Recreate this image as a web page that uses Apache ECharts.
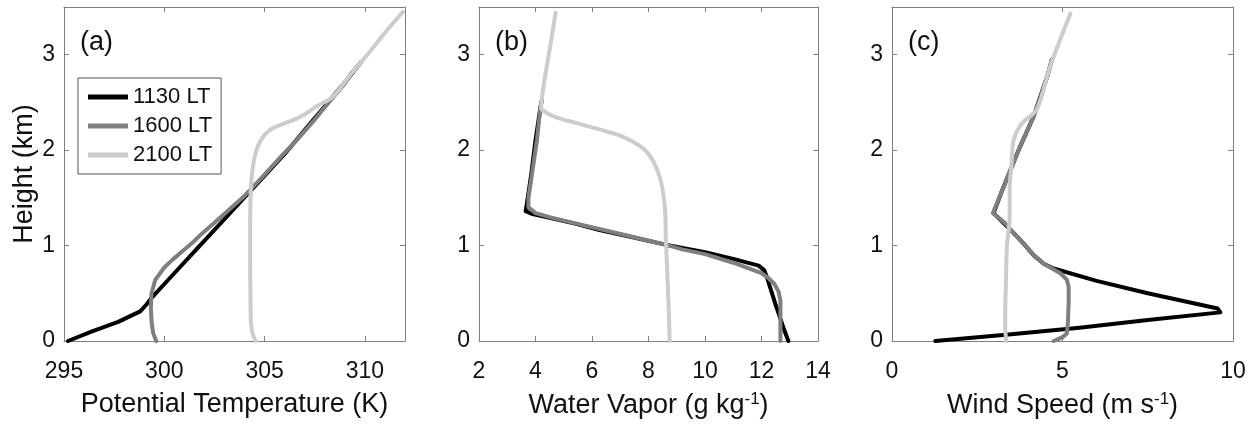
<!DOCTYPE html>
<html>
<head>
<meta charset="utf-8">
<script src="https://cdn.jsdelivr.net/npm/echarts@6/dist/echarts.min.js"></script>
<style>
    html, body { margin: 0; padding: 0; background: #fff; }
    #chart { width: 1257px; height: 425px; }
</style>
</head>
<body>
<div id="chart"></div>
<script>
// series names
var seriesNames = ['1130 LT', '1600 LT', '2100 LT'];
var lineColors = ['#000000', '#7f7f7f', '#cccccc'];

// panel (a) potential temperature (K) vs height (km)
var theta1130 = [[295.2, 0], [296.4, 0.1], [297.7, 0.2], [298.8, 0.31], [299.1, 0.38], [299.4, 0.46], [300.5, 0.71], [301.6, 0.96], [302.7, 1.21], [303.8, 1.46], [304.9, 1.71], [306.0, 1.96], [307.0, 2.21], [308.0, 2.46], [309.0, 2.71], [309.8, 2.92]];
var theta1600 = [[299.6, 0], [299.45, 0.08], [299.37, 0.19], [299.33, 0.35], [299.36, 0.5], [299.55, 0.64], [300.0, 0.77], [300.4, 0.85], [300.9, 0.94], [301.4, 1.03], [301.9, 1.13], [302.5, 1.24], [303.2, 1.37], [303.9, 1.5], [304.8, 1.7], [305.9, 1.95], [306.4, 2.06], [307.0, 2.2], [307.5, 2.32], [308.0, 2.45], [308.6, 2.6], [309.0, 2.7], [309.3, 2.8], [309.8, 2.92]];
var theta2100 = [[304.55, 0], [304.4, 0.08], [304.32, 0.2], [304.3, 0.4], [304.28, 0.8], [304.28, 1.2], [304.3, 1.5], [304.35, 1.7], [304.42, 1.83], [304.55, 1.97], [304.75, 2.08], [305.0, 2.16], [305.4, 2.23], [306.0, 2.28], [306.6, 2.33], [307.1, 2.39], [307.6, 2.46], [308.4, 2.56], [309.2, 2.77], [310.2, 3.02], [311.0, 3.23], [311.9, 3.45]];

// panel (b) water vapor (g/kg) vs height (km)
var vapor1130 = [[12.95, 0], [12.8, 0.12], [12.65, 0.25], [12.5, 0.38], [12.35, 0.52], [12.2, 0.66], [12.1, 0.74], [11.9, 0.79], [11.0, 0.86], [10.0, 0.93], [8.6, 1.01], [7.4, 1.09], [6.3, 1.16], [5.4, 1.23], [4.5, 1.29], [3.9, 1.33], [3.65, 1.36], [3.7, 1.45], [3.85, 1.75], [4.0, 2.1], [4.17, 2.44], [4.22, 2.52]];
var vapor1600 = [[12.67, 0], [12.67, 0.2], [12.67, 0.42], [12.6, 0.52], [12.45, 0.6], [12.2, 0.67], [12.0, 0.71], [11.0, 0.82], [10.0, 0.91], [9.2, 0.96], [8.6, 1.01], [7.6, 1.08], [6.6, 1.15], [5.6, 1.22], [4.6, 1.29], [4.0, 1.34], [3.75, 1.4], [3.75, 1.5], [3.9, 1.8], [4.05, 2.1], [4.17, 2.44], [4.22, 2.52]];
var vapor2100 = [[8.75, 0], [8.72, 0.3], [8.68, 0.6], [8.64, 0.9], [8.61, 1.1], [8.6, 1.3], [8.55, 1.48], [8.45, 1.66], [8.3, 1.8], [8.08, 1.93], [7.8, 2.02], [7.5, 2.08], [7.1, 2.14], [6.7, 2.18], [6.1, 2.23], [5.5, 2.28], [5.0, 2.32], [4.6, 2.36], [4.35, 2.4], [4.2, 2.44], [4.3, 2.7], [4.5, 3.05], [4.71, 3.44]];

// panel (c) wind speed (m/s) vs height (km)
var wind1130 = [[1.27, 0], [3.5, 0.07], [5.5, 0.14], [7.5, 0.22], [9.63, 0.3], [9.55, 0.34], [7.5, 0.5], [6.0, 0.63], [4.74, 0.76], [4.45, 0.81], [4.15, 0.9], [3.86, 1.02], [3.57, 1.13], [2.98, 1.34], [3.2, 1.55], [3.47, 1.79], [3.76, 2.04], [4.15, 2.35], [4.55, 2.77], [4.69, 2.95]];
var wind1600 = [[4.74, 0], [5.0, 0.04], [5.13, 0.08], [5.16, 0.2], [5.18, 0.4], [5.18, 0.57], [5.13, 0.64], [4.94, 0.71], [4.45, 0.81], [4.15, 0.9], [3.86, 1.02], [3.57, 1.13], [3.3, 1.24], [2.96, 1.34], [3.2, 1.55], [3.47, 1.79], [3.76, 2.04], [4.15, 2.35], [4.35, 2.55], [4.55, 2.77], [4.69, 2.95]];
var wind2100 = [[3.35, 0], [3.32, 0.15], [3.32, 0.29], [3.34, 0.6], [3.37, 0.99], [3.45, 1.3], [3.45, 1.6], [3.5, 1.83], [3.57, 2.11], [3.81, 2.28], [4.25, 2.43], [4.64, 2.88], [5.23, 3.43]];

// axis ranges
var heightTicks = [0, 3.5, 1];
var xRanges = [[295, 312, 5], [2, 14, 2], [0, 10, 5]];
var xNames = ['Potential Temperature (K)', 'Water Vapor (g kg{sup|-1})', 'Wind Speed (m s{sup|-1})'];
var panelTags = ['(a)', '(b)', '(c)'];

var FONT = 'Liberation Sans, Arial, sans-serif';
var frameColor = '#7f7f7f';
var grids = [
    {left: 64, top: 7, width: 341, height: 334},
    {left: 479, top: 7, width: 339, height: 334},
    {left: 892, top: 7, width: 341, height: 334}
];

function xAxisFor(i, top) {
    return {
        type: 'value',
        gridIndex: i,
        position: top ? 'top' : 'bottom',
        min: xRanges[i][0],
        max: xRanges[i][1],
        interval: xRanges[i][2],
        name: top ? '' : xNames[i],
        nameLocation: 'middle',
        nameGap: 50,
        nameTextStyle: {
            fontFamily: FONT, fontSize: 27, color: '#111',
            rich: {sup: {fontFamily: FONT, fontSize: 17, color: '#111', verticalAlign: 'top', lineHeight: 30}}
        },
        axisLine: {show: true, onZero: false, lineStyle: {color: frameColor, width: 1}},
        axisTick: {show: true, inside: true, length: 5, lineStyle: {color: frameColor}},
        axisLabel: {show: !top, margin: 19, fontFamily: FONT, fontSize: 23, color: '#111', showMaxLabel: i === 0 ? false : true},
        splitLine: {show: false}
    };
}

function yAxisFor(i, right) {
    return {
        type: 'value',
        gridIndex: i,
        position: right ? 'right' : 'left',
        min: heightTicks[0],
        max: heightTicks[1],
        interval: heightTicks[2],
        name: (i === 0 && !right) ? 'Height (km)' : '',
        nameLocation: 'middle',
        nameGap: 26,
        nameTextStyle: {fontFamily: FONT, fontSize: 27, color: '#111'},
        axisLine: {show: true, onZero: false, lineStyle: {color: frameColor, width: 1}},
        axisTick: {show: true, inside: true, length: 5, lineStyle: {color: frameColor}},
        axisLabel: {show: !right, margin: 9, fontFamily: FONT, fontSize: 23, color: '#111', showMaxLabel: false},
        splitLine: {show: false}
    };
}

var xAxes = [], yAxes = [], graphics = [];
for (var i = 0; i < 3; i++) {
    xAxes.push(xAxisFor(i, false), xAxisFor(i, true));
    yAxes.push(yAxisFor(i, false), yAxisFor(i, true));
    graphics.push({
        type: 'text',
        left: grids[i].left + 16,
        top: 29,
        style: {text: panelTags[i], font: '27px ' + FONT, fill: '#111'}
    });
}

var panelData = [
    [theta1130, theta1600, theta2100],
    [vapor1130, vapor1600, vapor2100],
    [wind1130, wind1600, wind2100]
];
var series = [];
for (var p = 0; p < 3; p++) {
    for (var s = 0; s < 3; s++) {
        series.push({
            name: seriesNames[s],
            type: 'line',
            xAxisIndex: p * 2,
            yAxisIndex: p * 2,
            data: panelData[p][s],
            showSymbol: false,
            symbol: 'none',
            smooth: s === 2 ? 0.3 : false,
            clip: true,
            z: 2 + s,
            lineStyle: {color: lineColors[s], width: 4, cap: 'round', join: 'round'},
            itemStyle: {color: lineColors[s]}
        });
    }
}

var dom = document.getElementById('chart');
var myChart = echarts.init(dom, null, {renderer: 'canvas'});
myChart.setOption({
    animation: false,
    backgroundColor: '#ffffff',
    grid: grids,
    xAxis: xAxes,
    yAxis: yAxes,
    legend: {
        data: seriesNames,
        orient: 'vertical',
        left: 78,
        top: 78,
        icon: 'rect',
        itemWidth: 40,
        itemHeight: 5,
        itemGap: 7,
        padding: [8, 9, 8, 10],
        borderColor: '#555',
        borderWidth: 1,
        backgroundColor: '#ffffff',
        textStyle: {fontFamily: FONT, fontSize: 22, color: '#111'}
    },
    graphic: graphics,
    series: series
});
</script>
</body>
</html>
